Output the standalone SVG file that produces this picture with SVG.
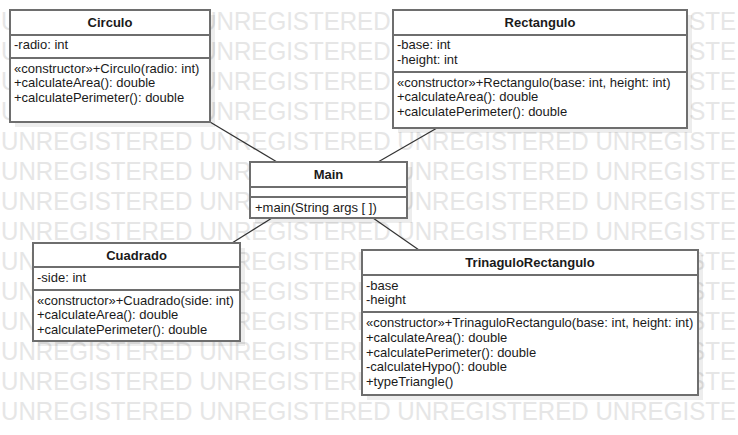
<svg xmlns="http://www.w3.org/2000/svg" width="738" height="435" viewBox="0 0 738 435">
<style>
.wm{font-family:"Liberation Sans",Arial,sans-serif;font-size:25px;fill:#e6e6e6}
.box{fill:#fff;stroke:#6e6e6e;stroke-width:2}
.shadow{fill:#000;fill-opacity:0.07}
.div{stroke:#6e6e6e;stroke-width:2}
.t{font-family:"Liberation Sans",Arial,sans-serif;font-size:13px;fill:#1a1a1a}
.title{font-family:"Liberation Sans",Arial,sans-serif;font-size:13px;font-weight:bold;fill:#1a1a1a;text-anchor:middle}
.conn line{stroke:#333;stroke-width:1.2}
</style>
<rect width="738" height="435" fill="#fff"/>
<g id="watermark">
<text class="wm" x="1" y="30" textLength="735" lengthAdjust="spacingAndGlyphs">UNREGISTERED UNREGISTERED UNREGISTERED UNREGISTE</text>
<text class="wm" x="1" y="60" textLength="735" lengthAdjust="spacingAndGlyphs">UNREGISTERED UNREGISTERED UNREGISTERED UNREGISTE</text>
<text class="wm" x="1" y="90" textLength="735" lengthAdjust="spacingAndGlyphs">UNREGISTERED UNREGISTERED UNREGISTERED UNREGISTE</text>
<text class="wm" x="1" y="120" textLength="735" lengthAdjust="spacingAndGlyphs">UNREGISTERED UNREGISTERED UNREGISTERED UNREGISTE</text>
<text class="wm" x="1" y="150" textLength="735" lengthAdjust="spacingAndGlyphs">UNREGISTERED UNREGISTERED UNREGISTERED UNREGISTE</text>
<text class="wm" x="1" y="180" textLength="735" lengthAdjust="spacingAndGlyphs">UNREGISTERED UNREGISTERED UNREGISTERED UNREGISTE</text>
<text class="wm" x="1" y="210" textLength="735" lengthAdjust="spacingAndGlyphs">UNREGISTERED UNREGISTERED UNREGISTERED UNREGISTE</text>
<text class="wm" x="1" y="240" textLength="735" lengthAdjust="spacingAndGlyphs">UNREGISTERED UNREGISTERED UNREGISTERED UNREGISTE</text>
<text class="wm" x="1" y="270" textLength="735" lengthAdjust="spacingAndGlyphs">UNREGISTERED UNREGISTERED UNREGISTERED UNREGISTE</text>
<text class="wm" x="1" y="300" textLength="735" lengthAdjust="spacingAndGlyphs">UNREGISTERED UNREGISTERED UNREGISTERED UNREGISTE</text>
<text class="wm" x="1" y="330" textLength="735" lengthAdjust="spacingAndGlyphs">UNREGISTERED UNREGISTERED UNREGISTERED UNREGISTE</text>
<text class="wm" x="1" y="360" textLength="735" lengthAdjust="spacingAndGlyphs">UNREGISTERED UNREGISTERED UNREGISTERED UNREGISTE</text>
<text class="wm" x="1" y="390" textLength="735" lengthAdjust="spacingAndGlyphs">UNREGISTERED UNREGISTERED UNREGISTERED UNREGISTE</text>
<text class="wm" x="1" y="420" textLength="735" lengthAdjust="spacingAndGlyphs">UNREGISTERED UNREGISTERED UNREGISTERED UNREGISTE</text>
</g>
<g id="connectors" class="conn">
<line x1="210" y1="122" x2="277" y2="162"/>
<line x1="437" y1="128" x2="378" y2="162"/>
<line x1="272" y1="218" x2="232" y2="243"/>
<line x1="373" y1="218" x2="419" y2="250"/>
</g>
<g id="Circulo">
<rect class="shadow" x="15" y="15" width="200" height="112"/>
<rect class="box" x="10" y="10" width="200" height="112"/>
<line class="div" x1="10" y1="35" x2="210" y2="35"/>
<line class="div" x1="10" y1="58" x2="210" y2="58"/>
<text class="title" x="110" y="27">Circulo</text>
<text class="t" x="14" y="49">-radio: int</text>
<text class="t" x="14" y="72.5">«constructor»+Circulo(radio: int)</text>
<text class="t" x="14" y="87">+calculateArea(): double</text>
<text class="t" x="14" y="101.5">+calculatePerimeter(): double</text>
</g>
<g id="Rectangulo">
<rect class="shadow" x="398" y="15" width="294" height="118"/>
<rect class="box" x="393" y="10" width="294" height="118"/>
<line class="div" x1="393" y1="35" x2="687" y2="35"/>
<line class="div" x1="393" y1="72" x2="687" y2="72"/>
<text class="title" x="540" y="27">Rectangulo</text>
<text class="t" x="397" y="49">-base: int</text>
<text class="t" x="397" y="63.7">-height: int</text>
<text class="t" x="397" y="86.5">«constructor»+Rectangulo(base: int, height: int)</text>
<text class="t" x="397" y="101.2">+calculateArea(): double</text>
<text class="t" x="397" y="116">+calculatePerimeter(): double</text>
</g>
<g id="Main">
<rect class="shadow" x="255" y="167" width="157" height="56"/>
<rect class="box" x="250" y="162" width="157" height="56"/>
<line class="div" x1="250" y1="187" x2="407" y2="187"/>
<line class="div" x1="250" y1="197" x2="407" y2="197"/>
<text class="title" x="328.5" y="179">Main</text>
<text class="t" x="255" y="211.5">+main(String args [ ])</text>
</g>
<g id="Cuadrado">
<rect class="shadow" x="38" y="248" width="207" height="98"/>
<rect class="box" x="33" y="243" width="207" height="98"/>
<line class="div" x1="33" y1="267" x2="240" y2="267"/>
<line class="div" x1="33" y1="290" x2="240" y2="290"/>
<text class="title" x="136.5" y="259.5">Cuadrado</text>
<text class="t" x="37" y="281.5">-side: int</text>
<text class="t" x="37" y="304.5">«constructor»+Cuadrado(side: int)</text>
<text class="t" x="37" y="319">+calculateArea(): double</text>
<text class="t" x="37" y="333.5">+calculatePerimeter(): double</text>
</g>
<g id="TrinaguloRectangulo">
<rect class="shadow" x="367" y="255" width="336" height="145"/>
<rect class="box" x="362" y="250" width="336" height="145"/>
<line class="div" x1="362" y1="275" x2="698" y2="275"/>
<line class="div" x1="362" y1="312" x2="698" y2="312"/>
<text class="title" x="530" y="267">TrinaguloRectangulo</text>
<text class="t" x="366" y="289.5">-base</text>
<text class="t" x="366" y="304">-height</text>
<text class="t" x="366" y="327.3">«constructor»+TrinaguloRectangulo(base: int, height: int)</text>
<text class="t" x="366" y="342">+calculateArea(): double</text>
<text class="t" x="366" y="356.7">+calculatePerimeter(): double</text>
<text class="t" x="366" y="371.3">-calculateHypo(): double</text>
<text class="t" x="366" y="386">+typeTriangle()</text>
</g>
</svg>
